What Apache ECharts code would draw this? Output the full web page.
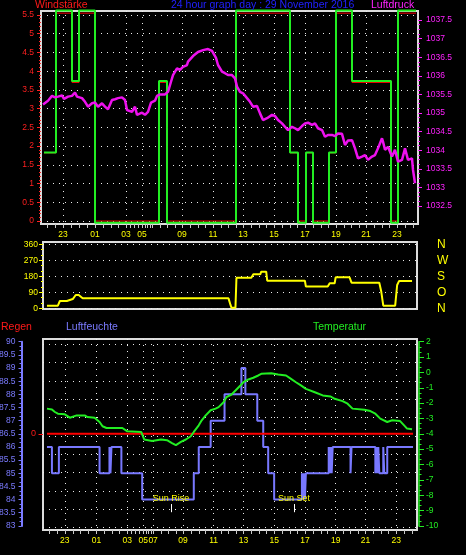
<!DOCTYPE html>
<html><head><meta charset="utf-8">
<script src="https://cdn.jsdelivr.net/npm/echarts@6/dist/echarts.min.js"></script>
<style>html,body{margin:0;padding:0;background:#000;}#c{width:466px;height:555px;}</style>
</head><body><div id="c"></div>
<script>
const FONT = "'Liberation Sans', Arial, sans-serif";

// sample-index x axis (0..377)
const N = 378;
const sampleCats = Array.from({length: N}, (_, i) => String(i));
const hourIdx    = [22, 54, 85, 101, 111, 141, 172, 202, 233, 264, 295, 325, 356];
const hourLabels = ['23','01','03','05','07','09','11','13','15','17','19','21','23'];
const topHourLabels = ['23','01','03','05','','09','11','13','15','17','19','21','23'];

// Windstärke (step)
const windIdx  = [3, 15, 31, 38, 54, 118, 126, 195, 249, 257, 265, 272, 288, 295, 311, 350, 357, 375];
const windGust = [1.83, 5.62, 3.74, 5.62, -0.05, 3.74, -0.05, 5.62, 1.83, -0.05, 1.83, -0.05, 1.83, 5.62, 3.74, -0.05, 5.62, 5.62];
const windAvg  = [1.82, 5.55, 3.70, 5.55, 0, 3.70, 0, 5.55, 1.82, 0, 1.82, 0, 1.82, 5.55, 3.70, 0, 5.55, 5.55];

// Luftdruck
const pressIdx = [2,4,7,11,14,17,21,23,27,31,34,36,41,44,47,51,54,57,61,64,67,71,74,77,81,84,86,91,94,96,101,104,107,110,114,116,119,124,127,130,132,136,139,142,146,147,152,157,162,167,171,175,177,181,184,187,191,194,196,199,202,206,209,212,216,219,222,226,231,234,237,241,244,247,251,254,257,261,264,267,271,274,277,281,284,287,291,294,297,301,304,307,311,314,317,321,324,327,331,334,337,341,342,344,347,351,354,357,361,364,367,371,372,374];
const pressHpa = [1035.23,1035.28,1035.33,1035.46,1035.42,1035.44,1035.47,1035.38,1035.44,1035.46,1035.55,1035.44,1035.40,1035.30,1035.17,1035.26,1035.28,1035.17,1035.26,1035.17,1035.10,1035.35,1035.37,1035.40,1035.42,1035.35,1035.08,1035.03,1035.17,1034.95,1035.01,1034.95,1035.03,1035.28,1035.33,1035.46,1035.50,1035.50,1035.57,1035.84,1036.02,1036.20,1036.16,1036.24,1036.29,1036.38,1036.53,1036.64,1036.69,1036.72,1036.67,1036.48,1036.29,1036.11,1036.07,1036.02,1036.02,1035.93,1035.71,1035.57,1035.53,1035.40,1035.30,1035.17,1035.19,1034.99,1034.81,1034.86,1034.95,1034.92,1034.81,1034.72,1034.63,1034.54,1034.63,1034.59,1034.54,1034.65,1034.72,1034.74,1034.68,1034.72,1034.59,1034.54,1034.36,1034.41,1034.41,1034.38,1034.45,1034.44,1034.14,1034.26,1034.27,1034.05,1033.78,1033.83,1033.87,1033.74,1033.83,1033.87,1034.05,1034.32,1034.23,1034.01,1034.09,1033.83,1034.01,1033.69,1033.74,1034.05,1033.74,1033.78,1033.47,1033.11];

// Windrichtung (degrees)
const dirIdx = [4,15,17,24,25,30,33,36,40,187,189,190,194,195,210,212,219,220,225,226,264,265,287,289,294,295,309,311,339,341,343,355,357,359,372];
const dirDeg = [15,15,41,41,52,52,75,75,56,56,19,3,3,172,172,191,191,206,206,155,155,122,122,141,141,174,174,144,144,93,15,15,131,154,154];
const dirTicks = [0, 90, 180, 270, 360];
const dirLetters = ['N', 'O', 'S', 'W', 'N'];

// Luftfeuchte (step)
const humIdx = [4,9,16,57,67,68,69,79,100,152,157,169,183,200,204,216,222,227,233,261,262,263,264,265,288,289,290,291,292,310,311,335,336,337,338,339,343,344,347,373];
const humVal = [86,85,86,85,86,85,86,85,84,85,86,87,88,89,88,87,86,85,84,85,84,85,84,85,86,85,86,85,86,85,86,85,86,85,86,85,86,85,86,86];

// Temperatur
const tempIdx = [4,9,12,15,22,27,34,42,45,52,57,60,64,80,85,99,102,110,119,125,130,134,139,144,149,152,157,160,164,169,174,177,182,185,190,194,199,202,207,212,217,220,230,237,245,250,255,260,265,274,282,290,294,302,307,312,324,330,335,340,347,352,360,364,367,372];
const tempVal = [-2.36,-2.41,-2.58,-2.69,-2.73,-2.95,-2.80,-2.80,-2.91,-2.95,-3.23,-3.51,-3.62,-3.62,-3.84,-3.88,-4.37,-4.47,-4.37,-4.42,-4.60,-4.74,-4.53,-4.37,-4.16,-3.88,-3.45,-3.12,-2.80,-2.47,-2.36,-2.26,-1.94,-1.61,-1.44,-1.18,-0.85,-0.64,-0.46,-0.35,-0.20,-0.09,-0.06,-0.14,-0.20,-0.42,-0.64,-0.85,-1.07,-1.29,-1.50,-1.57,-1.72,-1.87,-2.04,-2.36,-2.43,-2.52,-2.69,-3.01,-3.23,-3.12,-3.17,-3.45,-3.66,-3.71];

// Regen
const rainIdx = [4, 373];
const rainVal = [0, 0];

const sunRiseIdx = 129, sunSetIdx = 253;

const zip = (a, b) => a.map((x, i) => [x, b[i]]);

// half-hour ticks between hour labels
const tickSet = new Set();
(function () {
  const a = hourIdx;
  for (let k = 0; k < a.length - 1; k++) {
    for (let j = 0; j < 4; j++) tickSet.add(Math.round(a[k] + (a[k + 1] - a[k]) * j / 4));
  }
  tickSet.add(a[a.length - 1]);
  const s0 = (a[1] - a[0]) / 4;
  for (let t = a[0] - s0; t >= 0; t -= s0) tickSet.add(Math.round(t));
  for (let t = a[a.length - 1] + s0; t <= N - 1; t += s0) tickSet.add(Math.round(t));
})();

function labelMapOf(labels) {
  const m = {};
  hourIdx.forEach((ix, k) => { if (labels[k]) m[ix] = labels[k]; });
  return m;
}
const topMap = labelMapOf(topHourLabels);
const botMap = labelMapOf(hourLabels);

const dotted = {show: true, lineStyle: {color: '#ececec', width: 1, type: [1, 5]}};
const frameStyle = {show: true, borderColor: '#dcdcdc', borderWidth: 2, backgroundColor: 'transparent'};

function hiddenX(g) { return {type: 'category', gridIndex: g, data: sampleCats, boundaryGap: false, show: false}; }
function hiddenY(g) { return {type: 'value', gridIndex: g, show: false, min: 0, max: 1, splitLine: {show: false}}; }
function labeledX(g, map) {
  return {
    type: 'category', gridIndex: g, data: sampleCats, boundaryGap: false, position: 'bottom',
    axisLine: {show: false},
    axisTick: {show: true, interval: (i) => tickSet.has(i), length: 4, lineStyle: {color: '#c8c8c8', width: 1}},
    axisLabel: {show: true, interval: (i) => (i in map), formatter: (v, i) => map[i] || '',
      color: '#ffff00', fontSize: 8.5, fontFamily: FONT, margin: 6},
    splitLine: {show: true, interval: (i) => (i in map), lineStyle: {color: '#ececec', width: 1, type: [1, 5]}}
  };
}
function gridOf(o) { return Object.assign({containLabel: false, outerBoundsMode: 'none'}, o); }

const titleStyle = (c) => ({color: c, fontSize: 10.5, fontWeight: 'normal', fontFamily: FONT});

const option = {
  backgroundColor: '#000',
  animation: false,
  title: [
    {text: 'Windstärke', left: 35, top: 0, padding: 0, z: 10, textStyle: titleStyle('#ff1a1a')},
    {text: '24 hour graph day : 29 November 2016', left: 171, top: 0, padding: 0, z: 10, textStyle: titleStyle('#2020ff')},
    {text: 'Luftdruck', left: 371, top: 0, padding: 0, z: 10, textStyle: titleStyle('#ff22ff')},
    {text: 'Regen', left: 1, top: 321.5, padding: 0, textStyle: titleStyle('#ff1a1a')},
    {text: 'Luftfeuchte', left: 66, top: 321.5, padding: 0, textStyle: titleStyle('#7b7bff')},
    {text: 'Temperatur', left: 313, top: 321.5, padding: 0, textStyle: titleStyle('#22ee22')}
  ],
  grid: [
    gridOf(Object.assign({left: 41, right: 48, top: 11, bottom: 331}, frameStyle)),
    gridOf({left: 41, right: 48, top: 15, bottom: 334}),
    gridOf({left: 41, right: 48, top: 20, bottom: 349}),
    gridOf(Object.assign({left: 43, right: 49, top: 242, bottom: 246}, frameStyle)),
    gridOf({left: 43, right: 49, top: 244.3, bottom: 246.7}),
    gridOf(Object.assign({left: 43, right: 49, top: 339, bottom: 25}, frameStyle)),
    gridOf({left: 43, right: 49, top: 341.7, bottom: 29.1}),
    gridOf({left: 43, right: 49, top: 344.3, bottom: 27.3})
  ],
  xAxis: [
    labeledX(0, topMap), hiddenX(1), hiddenX(2), hiddenX(3), hiddenX(4),
    labeledX(5, botMap), hiddenX(6), hiddenX(7)
  ],
  yAxis: [
    hiddenY(0),
    { // 1 wind
      type: 'value', gridIndex: 1, position: 'left', min: 0, max: 5.5, interval: 0.5,
      axisLine: {show: false},
      axisTick: {show: true, length: 4, lineStyle: {color: '#ff2020'}},
      minorTick: {show: true, splitNumber: 5, length: 2, lineStyle: {color: '#ff2020'}},
      axisLabel: {color: '#ff2020', fontSize: 8.5, fontFamily: FONT, margin: 7},
      splitLine: dotted
    },
    { // 2 pressure
      type: 'value', gridIndex: 2, position: 'right', min: 1032.5, max: 1037.5, interval: 0.5,
      axisLine: {show: false},
      axisTick: {show: true, length: 4, lineStyle: {color: '#ff22ff'}},
      minorTick: {show: true, splitNumber: 4, length: 2, lineStyle: {color: '#ff22ff'}},
      axisLabel: {color: '#ff22ff', fontSize: 8.5, fontFamily: FONT, margin: 8, formatter: (v) => String(v)},
      splitLine: {show: false}
    },
    hiddenY(3),
    { // 4 direction
      type: 'value', gridIndex: 4, position: 'left', min: 0, max: 360, interval: 90,
      axisLine: {show: false},
      axisTick: {show: true, length: 4, lineStyle: {color: '#ffff00'}},
      minorTick: {show: true, splitNumber: 3, length: 2, lineStyle: {color: '#ffff00'}},
      axisLabel: {color: '#ffff00', fontSize: 8.5, fontFamily: FONT, margin: 5},
      splitLine: dotted
    },
    { // 5 compass letters
      type: 'value', gridIndex: 4, position: 'right', min: 0, max: 360, interval: 90,
      axisLine: {show: false}, axisTick: {show: false}, splitLine: {show: false},
      axisLabel: {color: '#ffff00', fontSize: 12, fontFamily: FONT, margin: 20, align: 'left',
        formatter: (v) => dirLetters[dirTicks.indexOf(v)] || ''}
    },
    hiddenY(5),
    { // 7 humidity
      type: 'value', gridIndex: 6, position: 'left', offset: 21.5, min: 83, max: 90, interval: 0.5,
      axisLine: {show: true, lineStyle: {color: '#7b7bff', width: 2}},
      axisTick: {show: true, length: 3, lineStyle: {color: '#7b7bff'}},
      minorTick: {show: true, splitNumber: 3, length: 2, lineStyle: {color: '#7b7bff'}},
      axisLabel: {color: '#7b7bff', fontSize: 8.5, fontFamily: FONT, margin: 6},
      splitLine: {show: false}
    },
    { // 8 rain
      type: 'value', gridIndex: 6, position: 'left', offset: 0, min: -1, max: 1,
      axisLine: {show: false},
      axisTick: {show: true, customValues: [0], length: 4.5, lineStyle: {color: '#ff1a1a'}},
      axisLabel: {show: true, customValues: [0], color: '#ff1a1a', fontSize: 9, fontFamily: FONT, margin: 7},
      splitLine: {show: false}
    },
    { // 9 temperature
      type: 'value', gridIndex: 6, position: 'right', offset: 2, min: -10, max: 2, interval: 1,
      axisLine: {show: true, lineStyle: {color: '#22ee22', width: 1.5}},
      axisTick: {show: true, length: 5, lineStyle: {color: '#22ee22'}},
      minorTick: {show: true, splitNumber: 3, length: 2.5, lineStyle: {color: '#22ee22'}},
      axisLabel: {color: '#22ee22', fontSize: 8.5, fontFamily: FONT, margin: 7},
      splitLine: {show: false}
    },
    { // 10 dotted rows of lower panel
      type: 'value', gridIndex: 7, min: 0, max: 10, interval: 1,
      axisLine: {show: false}, axisTick: {show: false}, axisLabel: {show: false},
      splitLine: dotted
    }
  ],
  series: [
    {name: 'wind avg', type: 'line', xAxisIndex: 1, yAxisIndex: 1, step: 'end', data: zip(windIdx, windAvg),
      showSymbol: false, symbol: 'none', clip: false, z: 2, lineStyle: {color: '#ff0000', width: 1}},
    {name: 'wind gust', type: 'line', xAxisIndex: 1, yAxisIndex: 1, step: 'end', data: zip(windIdx, windGust),
      showSymbol: false, symbol: 'none', clip: false, z: 3, lineStyle: {color: '#22ee22', width: 2}},
    {name: 'Luftdruck', type: 'line', xAxisIndex: 2, yAxisIndex: 2, data: zip(pressIdx, pressHpa),
      showSymbol: false, symbol: 'none', clip: false, z: 4, lineStyle: {color: '#ee11ee', width: 2.5}},
    {name: 'Windrichtung', type: 'line', xAxisIndex: 4, yAxisIndex: 4, data: zip(dirIdx, dirDeg),
      showSymbol: false, symbol: 'none', clip: false, z: 3, lineStyle: {color: '#ffff00', width: 2}},
    {name: 'Regen', type: 'line', xAxisIndex: 6, yAxisIndex: 8, data: zip(rainIdx, rainVal),
      showSymbol: false, symbol: 'none', z: 3, lineStyle: {color: '#ff0000', width: 2}},
    {name: 'Luftfeuchte', type: 'line', xAxisIndex: 6, yAxisIndex: 7, step: 'end', data: zip(humIdx, humVal),
      showSymbol: false, symbol: 'none', clip: false, z: 2, lineStyle: {color: '#7878ff', width: 2},
      markLine: {
        silent: true, symbol: ['none', 'none'], animation: false,
        data: [
          [{coord: [sunRiseIdx, 83.83], lineStyle: {color: '#ffffff', width: 1, type: 'solid'},
            label: {show: true, position: 'start', formatter: 'Sun Rise', color: '#ffff00', fontSize: 9, fontFamily: FONT, distance: 1}},
           {coord: [sunRiseIdx, 83.52]}],
          [{coord: [sunRiseIdx, 83.52], lineStyle: {color: '#ffff00', width: 1, type: [1, 2]}, label: {show: false}},
           {coord: [sunRiseIdx, 82.84]}],
          [{coord: [sunSetIdx, 83.83], lineStyle: {color: '#ffffff', width: 1, type: 'solid'},
            label: {show: true, position: 'start', formatter: 'Sun Set', color: '#ffff00', fontSize: 9, fontFamily: FONT, distance: 1}},
           {coord: [sunSetIdx, 83.52]}],
          [{coord: [sunSetIdx, 83.52], lineStyle: {color: '#ffff00', width: 1, type: [1, 2]}, label: {show: false}},
           {coord: [sunSetIdx, 82.84]}]
        ]
      }},
    {name: 'Temperatur', type: 'line', xAxisIndex: 6, yAxisIndex: 9, data: zip(tempIdx, tempVal),
      showSymbol: false, symbol: 'none', z: 4, lineStyle: {color: '#22ee22', width: 2}}
  ]
};

const chart = echarts.init(document.getElementById('c'), null, {renderer: 'canvas'});
chart.setOption(option);
</script></body></html>
